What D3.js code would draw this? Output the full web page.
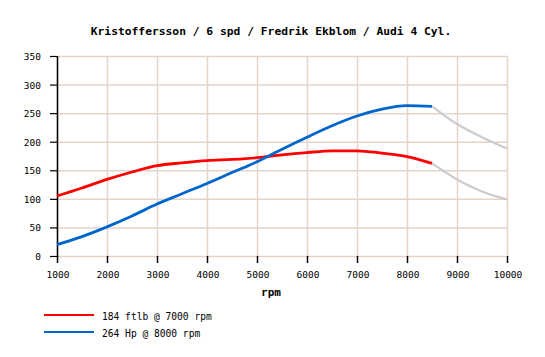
<!DOCTYPE html>
<html><head><meta charset="utf-8">
<script src="https://cdn.jsdelivr.net/npm/d3@7"></script>
<style>
body{margin:0;background:#fff;}
text{font-family:"DejaVu Sans Mono","Liberation Mono",monospace;fill:#000;}
</style></head>
<body><svg id="c" width="545" height="357"></svg>
<script>
const title = "Kristoffersson / 6 spd / Fredrik Ekblom / Audi 4 Cyl.";
const rpm = [1000,1500,2000,2500,3000,3500,4000,4500,5000,5500,6000,6500,7000,7500,8000,8500];
const torque = [105,119,134,147,158,163,167,169,172,177,181,184,184,180,174,162];
const power = [20,34,51,70,91,109,127,146,165,187,208,228,245,257,263,262];
const rpmExt = [8500,9000,9500,10000];
const torqueExt = [162,134,113,99];
const powerExt = [262,231,208,188];
const xTicks = [1000,2000,3000,4000,5000,6000,7000,8000,9000,10000];
const yTicks = [0,50,100,150,200,250,300,350];
const legendLabels = ["184 ftlb @ 7000 rpm","264 Hp @ 8000 rpm"];
const colors = ["#ff0000","#0066cc"];

const svg = d3.select("#c");
const x = d3.scaleLinear().domain([1000,10000]).range([57,507]);
const y = d3.scaleLinear().domain([0,350]).range([256,56]);
const grid = "#e3d3c9";

// grid
svg.append("g").selectAll("line").data(xTicks).join("line")
  .attr("x1",d=>x(d)+0.5).attr("x2",d=>x(d)+0.5).attr("y1",y(350)).attr("y2",y(0))
  .attr("stroke",grid).attr("stroke-width",1.5);
svg.append("g").selectAll("line").data(yTicks).join("line")
  .attr("x1",x(1000)).attr("x2",x(10000)+1).attr("y1",d=>y(d)+0.5).attr("y2",d=>y(d)+0.5)
  .attr("stroke",grid).attr("stroke-width",1.5);

// axes
svg.append("line").attr("x1",x(1000)+0.5).attr("x2",x(1000)+0.5).attr("y1",y(350)).attr("y2",y(0)+1)
  .attr("stroke","#000").attr("stroke-width",1.5);
svg.append("g").selectAll("line").data(yTicks).join("line")
  .attr("x1",x(1000)-7).attr("x2",x(1000)).attr("y1",d=>y(d)+0.5).attr("y2",d=>y(d)+0.5)
  .attr("stroke","#000").attr("stroke-width",1.2);
svg.append("g").selectAll("line").data(xTicks).join("line")
  .attr("x1",d=>x(d)+0.5).attr("x2",d=>x(d)+0.5).attr("y1",y(0)).attr("y2",y(0)+7)
  .attr("stroke","#000").attr("stroke-width",1.5);

svg.append("g").selectAll("text").data(yTicks).join("text")
  .attr("x",x(1000)-16).attr("y",d=>y(d)+4).attr("text-anchor","end")
  .style("font-size","9.5px").text(d=>d);
svg.append("g").selectAll("text").data(xTicks).join("text")
  .attr("x",d=>x(d)+1).attr("y",278).attr("text-anchor","middle")
  .style("font-size","9.5px").text(d=>d);

svg.append("text").attr("x",271).attr("y",35).attr("text-anchor","middle")
  .style("font-size","11.3px").style("font-weight","bold").text(title);
svg.append("text").attr("x",271).attr("y",296).attr("text-anchor","middle")
  .style("font-size","11px").style("font-weight","bold").text("rpm");

const line = d3.line().x(d=>x(d[0])).y(d=>y(d[1])).curve(d3.curveMonotoneX);
const ext = [torqueExt, powerExt];
ext.forEach(v=>{
  svg.append("path").datum(rpmExt.map((r,i)=>[r,v[i]])).attr("d",line)
    .attr("fill","none").attr("stroke","#cccccc").attr("stroke-width",2.2);
});
[torque,power].forEach((v,k)=>{
  svg.append("path").datum(rpm.map((r,i)=>[r,v[i]])).attr("d",line)
    .attr("fill","none").attr("stroke",colors[k]).attr("stroke-width",2.8);
});

// legend
legendLabels.forEach((t,i)=>{
  const ly = 315 + i*17;
  svg.append("line").attr("x1",44).attr("x2",94).attr("y1",ly).attr("y2",ly)
    .attr("stroke",colors[i]).attr("stroke-width",2.2);
  svg.append("text").attr("x",102).attr("y",ly+5).style("font-size","9.6px").text(t);
});
</script></body></html>
